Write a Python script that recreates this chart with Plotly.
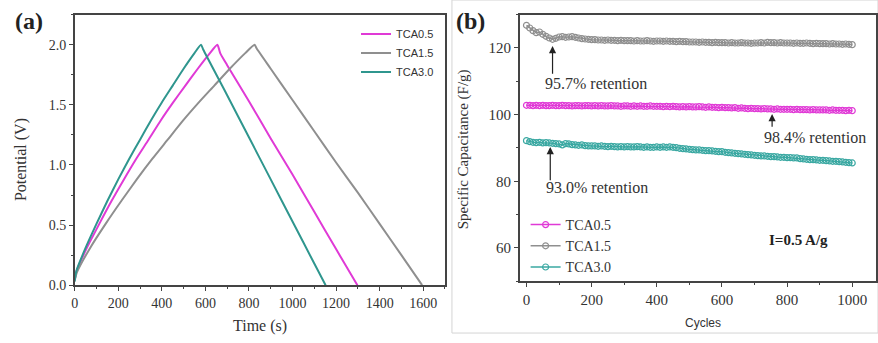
import plotly.graph_objects as go

# ---------------- Panel (a): galvanostatic charge/discharge ----------------
t_tca05 = [0, 9, 56, 113, 169, 226, 282, 339, 395, 452, 508, 565, 621, 655,
           668, 700, 800, 900, 1000, 1100, 1200, 1298]
v_tca05 = [0.04, 0.12, 0.31, 0.51, 0.70, 0.88, 1.05, 1.21, 1.37, 1.52, 1.66, 1.80, 1.93, 2.00,
           1.93, 1.83, 1.53, 1.22, 0.92, 0.61, 0.30, 0.00]

t_tca15 = [0, 11, 71, 142, 214, 285, 356, 427, 498, 570, 641, 712, 783, 826,
           835, 900, 1000, 1100, 1200, 1300, 1400, 1500, 1595]
v_tca15 = [0.04, 0.11, 0.31, 0.51, 0.70, 0.88, 1.05, 1.21, 1.37, 1.52, 1.66, 1.80, 1.93, 2.00,
           1.97, 1.80, 1.54, 1.28, 1.02, 0.77, 0.51, 0.25, 0.00]

t_tca30 = [0, 8, 50, 100, 150, 200, 250, 300, 350, 400, 450, 500, 550, 580,
           590, 700, 800, 900, 1000, 1100, 1152]
v_tca30 = [0.03, 0.12, 0.31, 0.51, 0.70, 0.88, 1.05, 1.21, 1.37, 1.52, 1.66, 1.80, 1.93, 2.00,
           1.96, 1.58, 1.23, 0.88, 0.53, 0.18, 0.00]

time_ticks = [0, 200, 400, 600, 800, 1000, 1200, 1400, 1600]
pot_ticks = [0.0, 0.5, 1.0, 1.5, 2.0]

# ---------------- Panel (b): cycling stability ----------------
cycles = list(range(0, 1001, 10))

cap_tca15 = [126.8,
             126.0, 125.2, 124.6, 124.8, 124.1, 123.5, 123.0, 122.6, 122.9, 123.3,
             123.4, 123.2, 123.3, 123.4, 123.2, 123.0, 122.8, 122.7, 122.6, 122.5,
             122.5, 122.4, 122.4, 122.3, 122.4, 122.3, 122.3, 122.2, 122.3, 122.2,
             122.2, 122.2, 122.1, 122.2, 122.1, 122.1, 122.2, 122.1, 122.0, 122.1,
             122.1, 122.0, 122.1, 122.0, 122.0, 121.9, 122.0, 121.9, 121.9, 121.8,
             121.8, 121.8, 121.7, 121.8, 121.7, 121.7, 121.6, 121.7, 121.6, 121.6,
             121.6, 121.5, 121.6, 121.5, 121.5, 121.6, 121.5, 121.5, 121.4, 121.5,
             121.5, 121.6, 121.5, 121.7, 121.6, 121.6, 121.5, 121.6, 121.5, 121.5,
             121.5, 121.4, 121.5, 121.4, 121.4, 121.5, 121.4, 121.3, 121.4, 121.3,
             121.3, 121.3, 121.2, 121.3, 121.2, 121.2, 121.1, 121.2, 121.1, 121.0]

cap_tca05 = [102.8,
             102.8, 102.7, 102.8, 102.7, 102.8, 102.7, 102.7, 102.8, 102.7, 102.7,
             102.8, 102.7, 102.7, 102.6, 102.7, 102.7, 102.6, 102.7, 102.7, 102.6,
             102.7, 102.6, 102.7, 102.6, 102.6, 102.7, 102.6, 102.6, 102.5, 102.6,
             102.6, 102.5, 102.6, 102.5, 102.6, 102.5, 102.5, 102.6, 102.5, 102.5,
             102.5, 102.4, 102.5, 102.4, 102.5, 102.4, 102.3, 102.4, 102.3, 102.4,
             102.3, 102.3, 102.4, 102.3, 102.2, 102.3, 102.2, 102.2, 102.1, 102.2,
             102.1, 102.1, 102.0, 102.1, 101.9, 102.0, 101.9, 101.8, 101.9, 101.8,
             101.8, 101.7, 101.8, 101.7, 101.7, 101.6, 101.7, 101.6, 101.6, 101.6,
             101.6, 101.5, 101.6, 101.5, 101.5, 101.5, 101.4, 101.5, 101.4, 101.4,
             101.4, 101.4, 101.3, 101.4, 101.3, 101.3, 101.3, 101.2, 101.3, 101.2]

cap_tca30 = [92.2,
             91.9, 91.7, 91.6, 91.7, 91.5, 91.6, 91.5, 91.4, 91.3, 91.2,
             90.9, 91.3, 91.2, 91.0, 90.9, 90.8, 90.9, 90.7, 90.6, 90.6,
             90.6, 90.5, 90.6, 90.5, 90.4, 90.5, 90.4, 90.3, 90.4, 90.3,
             90.4, 90.3, 90.3, 90.4, 90.3, 90.2, 90.3, 90.2, 90.2, 90.3,
             90.2, 90.3, 90.2, 90.3, 90.2, 90.1, 89.9, 89.8, 89.7, 89.6,
             89.5, 89.4, 89.4, 89.3, 89.2, 89.2, 89.1, 89.0, 88.9, 88.9,
             88.7, 88.6, 88.5, 88.4, 88.3, 88.2, 88.1, 88.0, 87.9, 87.8,
             87.7, 87.6, 87.6, 87.5, 87.4, 87.4, 87.3, 87.2, 87.2, 87.1,
             87.1, 87.0, 87.0, 86.8, 86.7, 86.6, 86.5, 86.5, 86.4, 86.3,
             86.3, 86.2, 86.1, 86.0, 86.0, 85.9, 85.8, 85.7, 85.6, 85.5]

cycle_ticks = [0, 200, 400, 600, 800, 1000]
cap_ticks = [60, 80, 100, 120]

names = ["TCA0.5", "TCA1.5", "TCA3.0"]
c_mag = "#e03ad6"
c_gray = "#8f8f8f"
c_teal = "#2f968e"
c_teal_b = "#3aa8a2"

SERIF = "Liberation Serif, Times New Roman, serif"
SANS = "Liberation Sans, Arial, sans-serif"
AX = "#444444"
TXT = "#333333"

W, H = 878, 343

fig = go.Figure()

# panel (a) traces
for t, v, n, c in [(t_tca05, v_tca05, names[0], c_mag),
                   (t_tca15, v_tca15, names[1], c_gray),
                   (t_tca30, v_tca30, names[2], c_teal)]:
    fig.add_trace(go.Scatter(x=t, y=v, name=n, mode="lines",
                             line=dict(color=c, width=2, shape="spline", smoothing=0.6),
                             xaxis="x", yaxis="y", legend="legend"))

# panel (b) traces
for cap, n, c in [(cap_tca05, names[0], c_mag),
                  (cap_tca15, names[1], c_gray),
                  (cap_tca30, names[2], c_teal_b)]:
    fig.add_trace(go.Scatter(x=cycles, y=cap, name=n, mode="lines+markers",
                             line=dict(color=c, width=1.5),
                             marker=dict(symbol="circle-open", size=6,
                                         color=c, line=dict(width=1.2, color=c)),
                             xaxis="x2", yaxis="y2", legend="legend2"))

def px_x(p):
    return p / W

def px_y(p):
    return 1 - p / H

common_axis = dict(showline=True, mirror=True, linecolor=AX, linewidth=1.5,
                   ticks="outside", ticklen=4, tickwidth=1, tickcolor=AX,
                   showgrid=False, zeroline=False,
                   tickfont=dict(family=SERIF, size=14, color=TXT))
font_b = dict(family=SERIF, size=15, color=TXT)

fig.update_layout(
    width=W, height=H,
    margin=dict(l=0, r=0, t=0, b=0),
    paper_bgcolor="white", plot_bgcolor="white",
    xaxis=dict(domain=[px_x(71), px_x(443)], range=[0, 1700],
               tickvals=time_ticks, ticktext=[str(v) for v in time_ticks],
               minor=dict(dtick=100, ticks="outside", ticklen=2, tickcolor=AX),
               anchor="y", **common_axis),
    yaxis=dict(domain=[px_y(292), px_y(15)], range=[0, 2.25],
               tickvals=pot_ticks, ticktext=[f"{v:.1f}" for v in pot_ticks],
               minor=dict(dtick=0.25, ticks="outside", ticklen=2, tickcolor=AX),
               anchor="x", **common_axis),
    xaxis2=dict(domain=[px_x(518), px_x(876)], range=[-21, 1073],
                tickvals=cycle_ticks, ticktext=[str(v) for v in cycle_ticks],
                minor=dict(dtick=100, ticks="outside", ticklen=2, tickcolor=AX),
                anchor="y2", **{**common_axis, "tickfont": font_b}),
    yaxis2=dict(domain=[px_y(288), px_y(15)], range=[50, 130],
                tickvals=cap_ticks, ticktext=[str(v) for v in cap_ticks],
                minor=dict(dtick=10, ticks="outside", ticklen=2, tickcolor=AX),
                anchor="x2", **{**common_axis, "tickfont": font_b}),
    legend=dict(x=px_x(437), y=px_y(20), xanchor="right", yanchor="top",
                bgcolor="rgba(0,0,0,0)", font=dict(family=SANS, size=11, color=TXT),
                itemwidth=30, tracegroupgap=0),
    legend2=dict(x=px_x(524), y=px_y(214), xanchor="left", yanchor="top",
                 bgcolor="rgba(0,0,0,0)", font=dict(family=SERIF, size=14, color=TXT),
                 itemwidth=30, tracegroupgap=0),
    showlegend=True,
)

ann = []

def pann(text, x, y, size, family=SERIF, color=TXT, angle=0):
    ann.append(dict(text=text, x=px_x(x), y=px_y(y), xref="paper", yref="paper",
                    xanchor="center", yanchor="middle", textangle=angle,
                    showarrow=False, font=dict(family=family, size=size, color=color)))

# panel labels
pann("<b>(a)</b>", 25, 22, 24, color="#222")
pann("<b>(b)</b>", 469, 22, 24, color="#222")
# axis titles
pann("Potential (V)", 17, 163, 16, angle=-90)
pann("Time (s)", 257, 334, 16)
pann("Specific Capacitance (F/g)", 462, 153, 15, angle=-90)
pann("Cycles", 702, 331, 12, family=SANS)

# retention texts
for txt, x, y in [("95.7% retention", 214, 109.2),
                  ("98.4% retention", 887, 93.2),
                  ("93.0% retention", 217, 78.0)]:
    ann.append(dict(text=txt, x=x, y=y, xref="x2", yref="y2", showarrow=False,
                    xanchor="center", yanchor="middle",
                    font=dict(family=SERIF, size=16, color=TXT)))
ann.append(dict(text="<b>I=0.5 A/g</b>", x=835, y=62.3, xref="x2", yref="y2", showarrow=False,
                xanchor="center", yanchor="middle",
                font=dict(family=SERIF, size=15, color="#222")))
# arrows
for x, tip, tail in [(80, 120.6, 111.8), (754, 100.2, 95.9), (73, 90.3, 79.9)]:
    ann.append(dict(text="", x=x, y=tip, ax=x, ay=tail, xref="x2", yref="y2",
                    axref="x2", ayref="y2", showarrow=True, arrowhead=2,
                    arrowsize=1.2, arrowwidth=1.2, arrowcolor="#222"))
fig.update_layout(annotations=ann)

# faint outer frame around panel (b)
fig.add_shape(type="rect", xref="paper", yref="paper",
              x0=px_x(450), x1=px_x(878), y0=px_y(341), y1=px_y(0),
              line=dict(color="#d4d4d4", width=1), fillcolor="rgba(0,0,0,0)", layer="below")

fig.write_html("out.html", config={"displayModeBar": False},
               post_script="document.body.style.margin='0';")
